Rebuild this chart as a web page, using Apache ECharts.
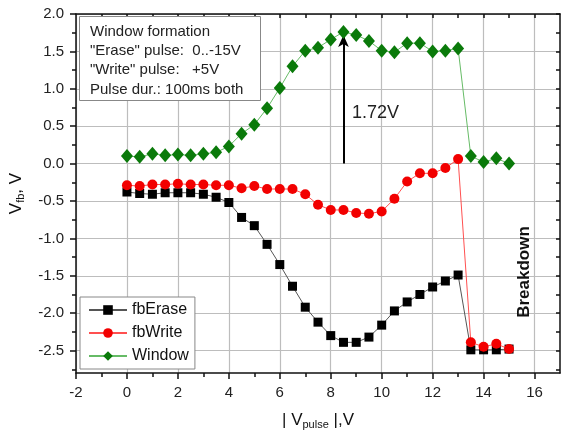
<!DOCTYPE html>
<html>
<head>
<meta charset="utf-8">
<script src="https://cdn.jsdelivr.net/npm/echarts@6/dist/echarts.min.js"></script>
<style>
  html, body { margin: 0; padding: 0; background: #fff; }
  #chart { width: 561px; height: 437px; }
</style>
</head>
<body>
<div id="chart"></div>
<script>
// pulse amplitude |Vpulse|, V
const pulseV = [0, 0.5, 1, 1.5, 2, 2.5, 3, 3.5, 4, 4.5, 5, 5.5, 6, 6.5, 7, 7.5,
  8, 8.5, 9, 9.5, 10, 10.5, 11, 11.5, 12, 12.5, 13, 13.5, 14, 14.5, 15];

const fbErase = [-0.38, -0.40, -0.41, -0.39, -0.39, -0.39, -0.41, -0.45, -0.52, -0.72,
  -0.83, -1.08, -1.35, -1.64, -1.92, -2.12, -2.30, -2.39, -2.39, -2.32, -2.16,
  -1.97, -1.85, -1.75, -1.65, -1.57, -1.49, -2.49, -2.49, -2.49, -2.48];

const fbWrite = [-0.29, -0.30, -0.28, -0.28, -0.27, -0.28, -0.28, -0.29, -0.29, -0.33,
  -0.30, -0.34, -0.34, -0.34, -0.41, -0.55, -0.62, -0.62, -0.66, -0.67, -0.64,
  -0.47, -0.24, -0.13, -0.13, -0.06, 0.06, -2.39, -2.45, -2.41, -2.48];

const windowV = [0.10, 0.09, 0.13, 0.11, 0.12, 0.11, 0.13, 0.15, 0.23, 0.40,
  0.52, 0.74, 1.01, 1.30, 1.51, 1.55, 1.66, 1.76, 1.72, 1.64, 1.51,
  1.49, 1.61, 1.61, 1.50, 1.51, 1.54, 0.10, 0.02, 0.07, 0.00];

// tick labels
const xTicks = [-2, 0, 2, 4, 6, 8, 10, 12, 14, 16];
const xMinor = [-1, 1, 3, 5, 7, 9, 11, 13, 15];
const xTopTicks = [-1, 0, 1, 2, 3, 4, 5, 6, 7, 8, 9, 10, 11, 12, 13, 14, 15, 16];
const yTicks = [-2.5, -2.0, -1.5, -1.0, -0.5, 0.0, 0.5, 1.0, 1.5, 2.0];
const yMinor = [-2.75, -2.25, -1.75, -1.25, -0.75, -0.25, 0.25, 0.75, 1.25, 1.75];

// arrow marking the window width
const windowArrow = { x: 8.5, from: 0, to: 1.72 };

const zip = (xs, ys) => xs.map((x, i) => [x, ys[i]]);

const chart = echarts.init(document.getElementById('chart'));

const font = 'Liberation Sans, Arial, sans-serif';
const xRange = { min: -2, max: 17 };
const yRange = { min: -2.8, max: 2 };
const dark = { color: '#111', width: 1.5 };
const subRich = { sub: { fontSize: 11, verticalAlign: 'bottom', padding: [8, 0, 0, 0], fontFamily: font, color: '#111' } };

const option = {
  animation: false,
  textStyle: { fontFamily: font },
  grid: { left: 76, right: 1, top: 14, bottom: 64 },
  legend: {
    orient: 'vertical',
    left: 80,
    top: 297,
    backgroundColor: '#fff',
    borderColor: '#888',
    borderWidth: 1,
    padding: [5, 6, 5, 8],
    itemGap: 7,
    itemWidth: 38,
    itemHeight: 12,
    z: 20,
    textStyle: { fontFamily: font, fontSize: 16, color: '#111' },
    data: ['fbErase', 'fbWrite', 'Window']
  },
  xAxis: [
    {
      type: 'value', position: 'bottom', ...xRange,
      name: '| V{sub|pulse} |,V',
      nameLocation: 'middle',
      nameGap: 38,
      nameTextStyle: { fontFamily: font, fontSize: 17, color: '#111', rich: subRich },
      axisLine: { onZero: false, lineStyle: dark },
      axisTick: { customValues: xTicks, length: 6, lineStyle: dark },
      axisLabel: { customValues: xTicks, margin: 12, fontSize: 15, color: '#222', fontFamily: font },
      splitLine: { show: true, lineStyle: { color: '#bdbdbd', width: 1.2 } }
    },
    {
      type: 'value', position: 'bottom', ...xRange,
      axisLine: { show: false, onZero: false },
      axisTick: { customValues: xMinor, length: 4, lineStyle: dark },
      axisLabel: { show: false },
      splitLine: { show: false }
    },
    {
      type: 'value', position: 'top', ...xRange,
      axisLine: { onZero: false, lineStyle: dark },
      axisTick: { customValues: xTopTicks, inside: true, length: 4, lineStyle: dark },
      axisLabel: { show: false },
      splitLine: { show: false }
    }
  ],
  yAxis: [
    {
      type: 'value', position: 'left', ...yRange,
      name: 'V{sub|fb}, V',
      nameLocation: 'middle',
      nameGap: 50,
      nameTextStyle: { fontFamily: font, fontSize: 17, color: '#111', rich: subRich },
      axisLine: { onZero: false, lineStyle: dark },
      axisTick: { customValues: yTicks, length: 6, lineStyle: dark },
      axisLabel: {
        customValues: yTicks, margin: 12, fontSize: 15, color: '#222', fontFamily: font,
        formatter: v => v.toFixed(1)
      },
      splitLine: { show: true, lineStyle: { color: '#bdbdbd', width: 1.2 } }
    },
    {
      type: 'value', position: 'left', ...yRange,
      axisLine: { show: false, onZero: false },
      axisTick: { customValues: yMinor, length: 4, lineStyle: dark },
      axisLabel: { show: false },
      splitLine: { show: false }
    },
    {
      type: 'value', position: 'right', ...yRange,
      axisLine: { onZero: false, lineStyle: dark },
      axisTick: { customValues: yTicks.concat(yMinor), inside: true, length: 4, lineStyle: dark },
      axisLabel: { show: false },
      splitLine: { show: false }
    }
  ],
  series: [
    {
      name: 'fbErase', type: 'line', data: zip(pulseV, fbErase),
      symbol: 'rect', symbolSize: 9,
      itemStyle: { color: '#000' },
      lineStyle: { color: '#555', width: 1 },
      z: 3
    },
    {
      name: 'fbWrite', type: 'line', data: zip(pulseV, fbWrite),
      symbol: 'circle', symbolSize: 10,
      itemStyle: { color: '#f20000' },
      lineStyle: { color: '#ff5050', width: 1 },
      z: 4
    },
    {
      name: 'Window', type: 'line', data: zip(pulseV, windowV),
      symbol: 'diamond', symbolSize: [12, 14],
      itemStyle: { color: '#0a7a0a' },
      lineStyle: { color: '#66bb66', width: 1 },
      z: 5,
      markLine: {
        silent: true,
        symbol: ['none', 'arrow'],
        symbolSize: [8, 12],
        label: { show: false },
        lineStyle: { color: '#000', width: 2, type: 'solid' },
        data: [[
          { coord: [windowArrow.x, windowArrow.from] },
          { coord: [windowArrow.x, windowArrow.to] }
        ]]
      }
    }
  ],
  graphic: [
    {
      // text box in the upper left corner
      type: 'rect', left: 79, top: 16, z: 100,
      shape: { width: 181, height: 84 },
      style: { fill: '#fff', stroke: '#888', lineWidth: 1 }
    },
    {
      type: 'text', left: 90, top: 22, z: 101,
      style: {
        text: 'Window formation\n"Erase" pulse:  0..-15V\n"Write" pulse:   +5V\nPulse dur.: 100ms both',
        font: '15px ' + font, fill: '#222', lineHeight: 19.3
      }
    },
    {
      type: 'text', left: 352, top: 104, z: 100,
      style: { text: '1.72V', font: '18px ' + font, fill: '#222' }
    },
    {
      type: 'text', z: 100, x: 524, y: 272, rotation: Math.PI / 2,
      style: {
        text: 'Breakdown', font: 'bold 17px ' + font, fill: '#111',
        align: 'center', verticalAlign: 'middle'
      }
    }
  ]
};

chart.setOption(option);

window.addEventListener('resize', () => chart.resize());
</script>
</body>
</html>
